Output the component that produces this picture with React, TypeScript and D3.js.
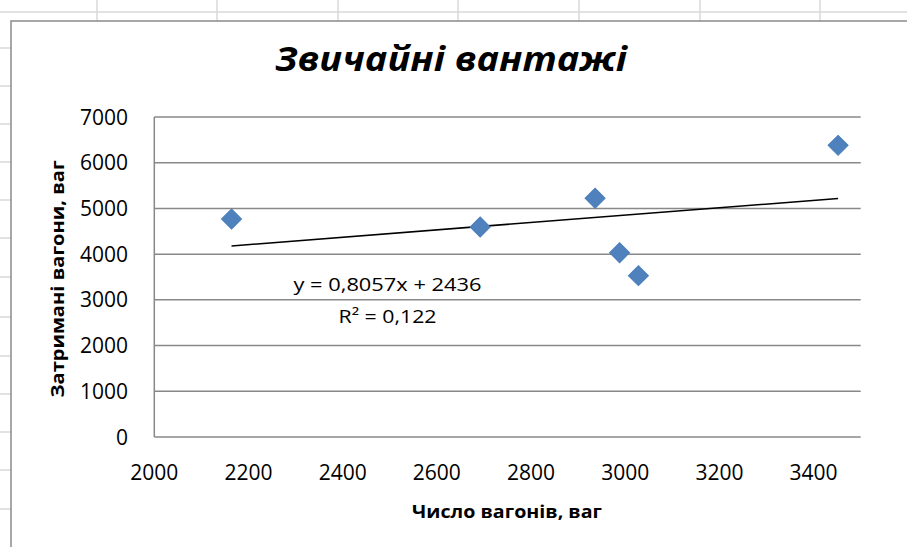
import * as d3 from "d3";
import React from "react";

// chart values
const wagons = [2164, 2692, 2936, 2988, 3028, 3452];
const delayed = [4770, 4595, 5222, 4032, 3530, 6380];
const xTicks = [2000, 2200, 2400, 2600, 2800, 3000, 3200, 3400];
const yTicks = [0, 1000, 2000, 3000, 4000, 5000, 6000, 7000];
const slope = 0.8057;
const intercept = 2436;
const equationText = "y = 0,8057x + 2436";
const r2Text = "R² = 0,122";
const title = "Звичайні вантажі";
const xTitle = "Число вагонів, ваг";
const yTitle = "Затримані вагони, ваг";

// spreadsheet grid behind the chart
const sheetCols = [97, 217, 338, 458, 579, 700, 820];
const sheetRows = [12, 48, 86, 124, 162, 200, 238, 277, 317, 356, 394, 432, 470, 509];

const W = 907;
const H = 547;
const FONT = "'Open Sans', 'DejaVu Sans', sans-serif";

const App = () => {
  const x = d3.scaleLinear().domain([2000, 3500]).range([154.3, 860.7]);
  const y = d3.scaleLinear().domain([0, 7000]).range([437, 117]);

  const points = wagons.map((w, i) => ({ w, d: delayed[i] }));
  const diamond = d3.symbol().type(d3.symbolSquare).size(200)();

  const xMin = d3.min(wagons) as number;
  const xMax = d3.max(wagons) as number;
  const trend = d3
    .line<number>()
    .x((v) => x(v))
    .y((v) => y(slope * v + intercept))([xMin, xMax]);

  return (
    <svg
      width={W}
      height={H}
      style={{ position: "absolute", left: 0, top: 0, display: "block" }}
    >
      <rect width={W} height={H} fill="#fff" />
      {sheetCols.map((c) => (
        <line key={"c" + c} x1={c} x2={c} y1={0} y2={21} stroke="#d8d8d8" strokeWidth={1.5} />
      ))}
      {sheetRows.map((r) => (
        <line key={"r" + r} x1={0} x2={r < 21 ? W : 11} y1={r} y2={r} stroke="#d8d8d8" strokeWidth={1.5} />
      ))}

      {/* chart area */}
      <rect x={11} y={21} width={W} height={H} fill="#fff" stroke="#8a8a8a" strokeWidth={1.5} />

      <text
        x={451}
        y={71}
        textAnchor="middle"
        fontFamily={FONT}
        fontWeight="bold"
        fontStyle="italic"
        fontSize={34}
        textLength={352}
        lengthAdjust="spacingAndGlyphs"
        fill="#000"
      >
        {title}
      </text>

      {/* gridlines */}
      {yTicks.slice(1).map((t) => (
        <line key={t} x1={x(2000)} x2={x(3500)} y1={y(t)} y2={y(t)} stroke="#888" strokeWidth={1.5} />
      ))}
      <line x1={x(2000)} x2={x(3500)} y1={y(0)} y2={y(0)} stroke="#888" strokeWidth={1.5} />
      <line x1={x(2000)} x2={x(2000)} y1={y(0)} y2={y(7000)} stroke="#888" strokeWidth={1.5} />

      {yTicks.map((t) => (
        <text
          key={"yl" + t}
          x={128}
          y={y(t)}
          dy="0.36em"
          textAnchor="end"
          fontFamily={FONT}
          fontSize={21}
          fill="#000"
        >
          {t}
        </text>
      ))}
      {xTicks.map((t) => (
        <text
          key={"xl" + t}
          x={x(t)}
          y={472}
          dy="0.36em"
          textAnchor="middle"
          fontFamily={FONT}
          fontSize={21}
          fill="#000"
        >
          {t}
        </text>
      ))}

      <text
        x={507}
        y={512}
        dy="0.36em"
        textAnchor="middle"
        fontFamily={FONT}
        fontWeight="bold"
        fontSize={18}
        textLength={190}
        lengthAdjust="spacingAndGlyphs"
      >
        {xTitle}
      </text>
      <text
        transform="translate(58,279) rotate(-90)"
        dy="0.36em"
        textAnchor="middle"
        fontFamily={FONT}
        fontWeight="bold"
        fontSize={18}
        textLength={237}
        lengthAdjust="spacingAndGlyphs"
      >
        {yTitle}
      </text>

      {/* trend line */}
      <path d={trend ?? ""} stroke="#000" strokeWidth={1.6} fill="none" />

      {points.map((p, i) => (
        <path
          key={i}
          d={diamond}
          transform={`translate(${x(p.w)},${y(p.d)}) rotate(45)`}
          fill="#4f81bd"
          stroke="#4a7ebb"
          strokeWidth={1}
        />
      ))}

      <text
        x={387.5}
        y={285}
        dy="0.36em"
        textAnchor="middle"
        fontFamily={FONT}
        fontSize={18}
        textLength={188}
        lengthAdjust="spacingAndGlyphs"
      >
        {equationText}
      </text>
      <text
        x={387.5}
        y={317}
        dy="0.36em"
        textAnchor="middle"
        fontFamily={FONT}
        fontSize={18}
        textLength={98}
        lengthAdjust="spacingAndGlyphs"
      >
        {r2Text}
      </text>
    </svg>
  );
};

export default App;
